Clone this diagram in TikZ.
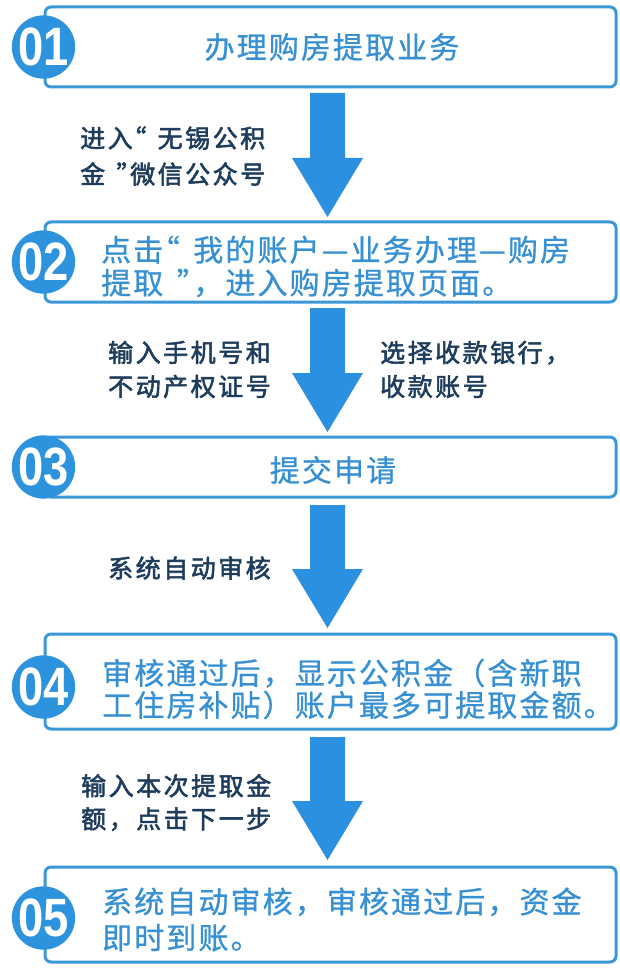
\documentclass[tikz,border=0pt]{standalone}
\usepackage{fontspec}
\usetikzlibrary{calc}
\newfontfamily\boxcjk[LetterSpace=7,FakeBold=0.8]{Noto Sans CJK SC}
\newfontfamily\sidecjk[LetterSpace=10,FakeBold=2.2]{Noto Sans CJK SC}
\newfontfamily\numfont[FakeStretch=0.84]{Liberation Sans}
\newcommand\openq[1]{\kern-0.45em#1\kern0.45em}
\newcommand\closeq[1]{\kern0.45em#1\kern-0.45em}
\definecolor{boxblue}{HTML}{3A98D8}
\definecolor{badgeblue}{HTML}{2E93DD}
\definecolor{arrowblue}{HTML}{2B90E0}
\definecolor{textblue}{HTML}{3790D2}
\definecolor{sidenavy}{HTML}{1E3D5C}
\begin{document}
\begin{tikzpicture}[x=1pt,y=-1pt,
  stepbox/.style={draw=boxblue, line width=3pt, rounded corners=6pt, fill=white, minimum width=571pt},
  badge/.style={circle, fill=badgeblue, minimum size=61pt, inner sep=0pt, text=white,
    font=\numfont\bfseries\fontsize{54}{54}\selectfont},
  boxtext/.style={text=textblue, inner sep=0pt, align=left, font=\boxcjk\fontsize{30}{#1}\selectfont},
  boxtext/.default=33,
  sidetext/.style={text=sidenavy, inner sep=0pt, align=left, font=\sidecjk\fontsize{25}{#1}\selectfont},
  sidetext/.default=35,
  flowfill/.style={fill=arrowblue}]
\fill[white] (0,0) rectangle (620,968);
\useasboundingbox (0,0) rectangle (620,968);

% boxes
\node[stepbox, minimum height=80pt] (b1) at (330.5,47) {};
\node[stepbox, minimum height=80pt] (b2) at (330.5,262) {};
\node[stepbox, minimum height=60pt] (b3) at (330.5,467) {};
\node[stepbox, minimum height=95pt] (b4) at (330.5,681.5) {};
\node[stepbox, minimum height=95pt] (b5) at (330.5,914.5) {};

% badges
\node[badge] (n1) at (43.5,47) {01};
\node[badge] (n2) at (43.5,262) {02};
\node[badge] (n3) at (43.5,467) {03};
\node[badge] (n4) at (43.5,687) {04};
\node[badge] (n5) at (43.5,918) {05};

% box texts
\node[boxtext] (t1) at (332,47) {办理购房提取业务};
\node[boxtext=33, anchor=west] (t2) at (101,266.5) {点击\openq{“}我的账户—业务办理—购房\\提取\closeq{”}，进入购房提取页面。};
\node[boxtext] (t3) at (333,470) {提交申请};
\node[boxtext=32, anchor=west] (t4) at (102,689) {审核通过后，显示公积金（含新职\\工住房补贴）账户最多可提取金额。};
\node[boxtext=36, anchor=west] (t5) at (102,919.5) {系统自动审核，审核通过后，资金\\即时到账。};

% arrow end points
\coordinate (s1) at ($(b1.south)+(-3,4.5)$);
\coordinate (e1) at ($(b2.north)+(-3,-3.5)$);
\coordinate (s2) at ($(b2.south)+(-3,4.5)$);
\coordinate (e2) at ($(b3.north)+(-3,-3.5)$);
\coordinate (s3) at ($(b3.south)+(-3,6.5)$);
\coordinate (e3) at ($(b4.north)+(-3,-4.5)$);
\coordinate (s4) at ($(b4.south)+(-3,6.5)$);
\coordinate (e4) at ($(b5.north)+(-3,-5.5)$);

\foreach \s/\e in {s1/e1,s2/e2,s3/e3,s4/e4}{
  \fill[flowfill] ($(\s)+(-17.5,0)$) -- ($(\s)+(17.5,0)$) -- ($(\e)+(17.5,-59)$)
    -- ($(\e)+(35.5,-59)$) -- (\e) -- ($(\e)+(-35.5,-59)$) -- ($(\e)+(-17.5,-59)$) -- cycle;
}

% side labels
\node[sidetext=36, anchor=west] (l1) at (80,156) {进入\openq{“}无锡公积\\金\closeq{”}微信公众号};
\node[sidetext=34, anchor=west] (l2) at (108,369.5) {输入手机号和\\不动产权证号};
\node[sidetext=34, anchor=west] (l2r) at (380,369.5) {选择收款银行，\\收款账号};
\node[sidetext, anchor=west] (l3) at (108,568) {系统自动审核};
\node[sidetext=33, anchor=west] (l4) at (81,802.5) {输入本次提取金\\额，点击下一步};
\end{tikzpicture}
\end{document}
